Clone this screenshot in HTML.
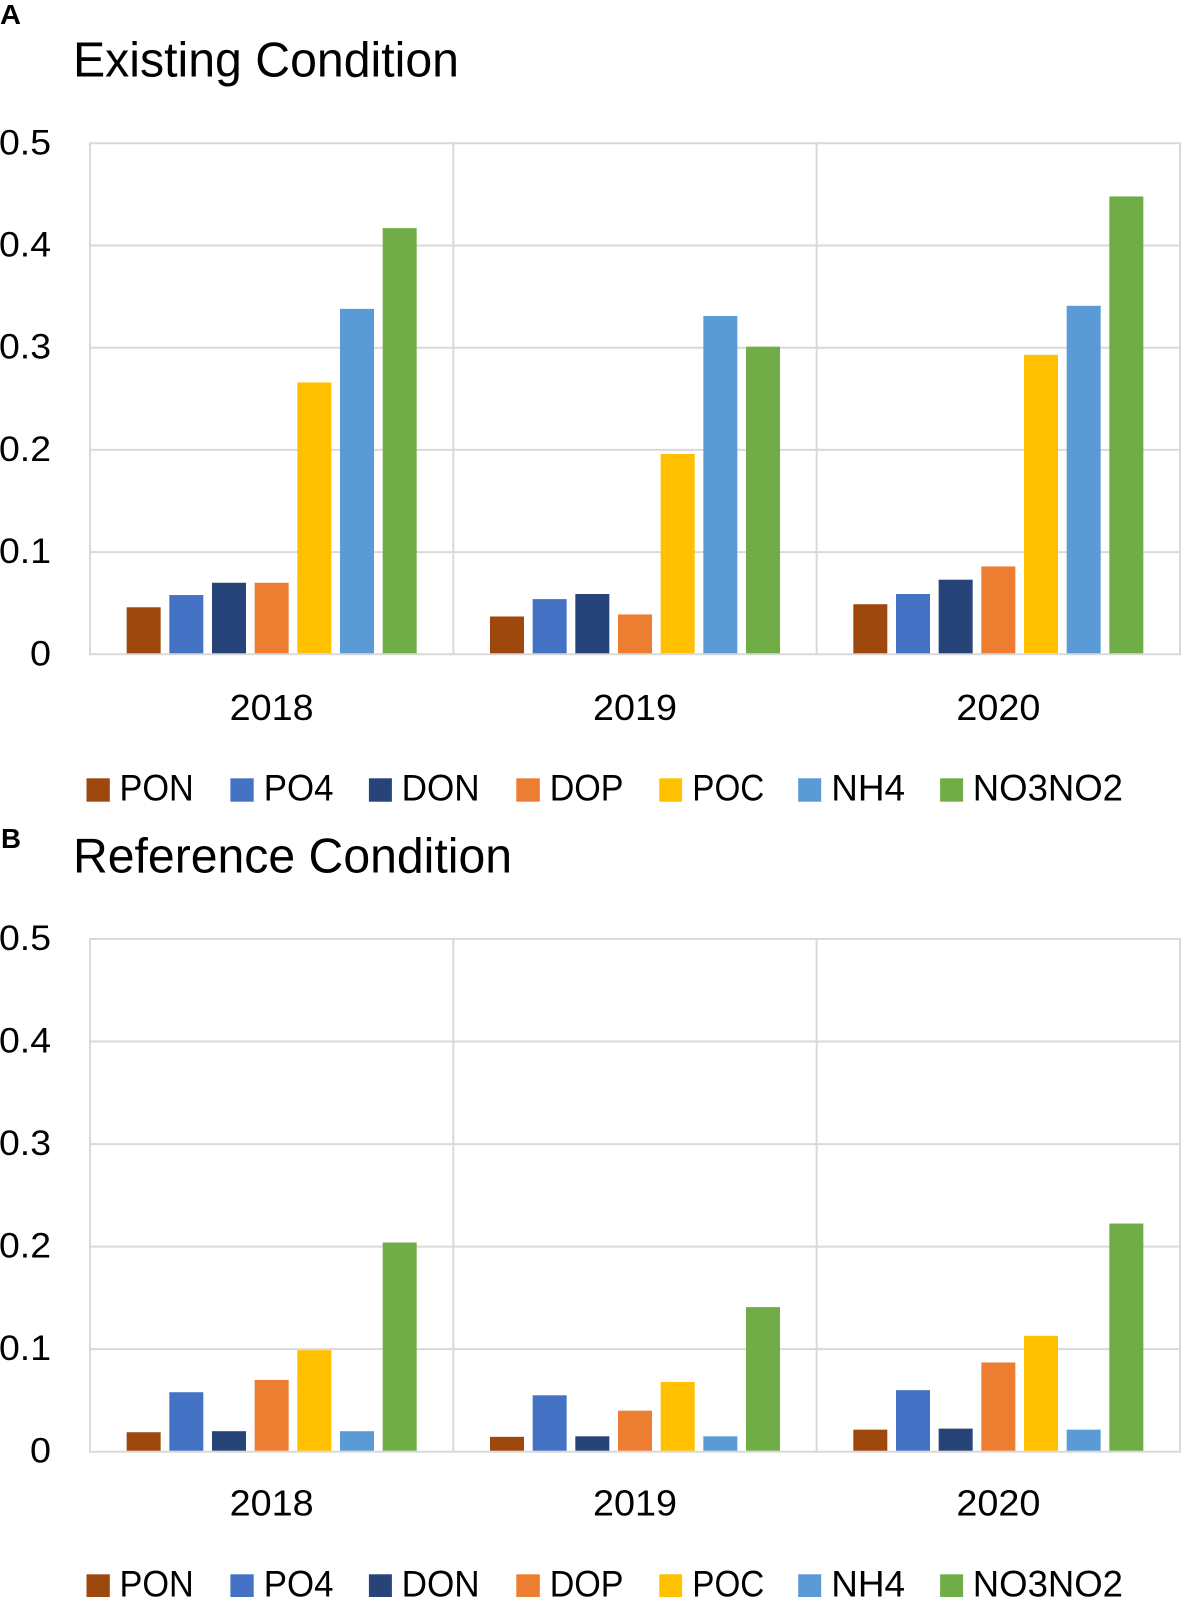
<!DOCTYPE html>
<html lang="en">
<head>
<meta charset="utf-8">
<title>Existing and Reference Condition</title>
<style>
  html, body { margin: 0; padding: 0; background: #fff; width: 1181px; height: 1597px; overflow: hidden; }
  svg { display: block; }
  text { font-family: "Liberation Sans", sans-serif; fill: #000; }
  .panel-letter { font-size: 28px; font-weight: bold; }
  .title { font-size: 49px; }
  .tick { font-size: 35px; text-anchor: end; }
  .year { font-size: 36.5px; text-anchor: middle; }
  .legend-text { font-size: 37.5px; }
  .grid { stroke: #d9d9d9; stroke-width: 2; }
  .series-0 { fill: #9e480e; }
  .series-1 { fill: #4472c4; }
  .series-2 { fill: #264478; }
  .series-3 { fill: #ed7d31; }
  .series-4 { fill: #ffc000; }
  .series-5 { fill: #5b9bd5; }
  .series-6 { fill: #70ad47; }
</style>
</head>
<body>
<svg id="figure" xmlns="http://www.w3.org/2000/svg" width="1181" height="1597" viewBox="0 0 1181 1597">
  <rect width="1181" height="1597" fill="#fff"/>

  <text class="panel-letter" x="0" y="24" textLength="21" lengthAdjust="spacingAndGlyphs">A</text>
  <text class="title" x="73" y="76.7" textLength="386" lengthAdjust="spacingAndGlyphs">Existing Condition</text>
  <g id="panel-a"></g>
  <g>
    <rect class="series-0" x="86.5" y="778.3" width="23.3" height="23.4"/>
    <text class="legend-text" x="119.5" y="800.7" textLength="74.3" lengthAdjust="spacingAndGlyphs">PON</text>
    <rect class="series-1" x="230.4" y="778.3" width="23.3" height="23.4"/>
    <text class="legend-text" x="263.8" y="800.7" textLength="69.7" lengthAdjust="spacingAndGlyphs">PO4</text>
    <rect class="series-2" x="368.9" y="778.3" width="23" height="23.4"/>
    <text class="legend-text" x="401.6" y="800.7" textLength="78.1" lengthAdjust="spacingAndGlyphs">DON</text>
    <rect class="series-3" x="516.3" y="778.3" width="23.5" height="23.4"/>
    <text class="legend-text" x="549.7" y="800.7" textLength="73.8" lengthAdjust="spacingAndGlyphs">DOP</text>
    <rect class="series-4" x="659.3" y="778.3" width="22.8" height="23.4"/>
    <text class="legend-text" x="692.3" y="800.7" textLength="72" lengthAdjust="spacingAndGlyphs">POC</text>
    <rect class="series-5" x="798.2" y="778.3" width="23" height="23.4"/>
    <text class="legend-text" x="831.2" y="800.7" textLength="73.9" lengthAdjust="spacingAndGlyphs">NH4</text>
    <rect class="series-6" x="940.1" y="778.3" width="23" height="23.4"/>
    <text class="legend-text" x="972.8" y="800.7" textLength="150.2" lengthAdjust="spacingAndGlyphs">NO3NO2</text>
  </g>

  <text class="panel-letter" x="1" y="848" textLength="20" lengthAdjust="spacingAndGlyphs">B</text>
  <text class="title" x="73" y="872.3" textLength="439" lengthAdjust="spacingAndGlyphs">Reference Condition</text>
  <g id="panel-b"></g>
  <g>
    <rect class="series-0" x="86.5" y="1574.3" width="23.3" height="23.4"/>
    <text class="legend-text" x="119.5" y="1596.7" textLength="74.3" lengthAdjust="spacingAndGlyphs">PON</text>
    <rect class="series-1" x="230.4" y="1574.3" width="23.3" height="23.4"/>
    <text class="legend-text" x="263.8" y="1596.7" textLength="69.7" lengthAdjust="spacingAndGlyphs">PO4</text>
    <rect class="series-2" x="368.9" y="1574.3" width="23" height="23.4"/>
    <text class="legend-text" x="401.6" y="1596.7" textLength="78.1" lengthAdjust="spacingAndGlyphs">DON</text>
    <rect class="series-3" x="516.3" y="1574.3" width="23.5" height="23.4"/>
    <text class="legend-text" x="549.7" y="1596.7" textLength="73.8" lengthAdjust="spacingAndGlyphs">DOP</text>
    <rect class="series-4" x="659.3" y="1574.3" width="22.8" height="23.4"/>
    <text class="legend-text" x="692.3" y="1596.7" textLength="72" lengthAdjust="spacingAndGlyphs">POC</text>
    <rect class="series-5" x="798.2" y="1574.3" width="23" height="23.4"/>
    <text class="legend-text" x="831.2" y="1596.7" textLength="73.9" lengthAdjust="spacingAndGlyphs">NH4</text>
    <rect class="series-6" x="940.1" y="1574.3" width="23" height="23.4"/>
    <text class="legend-text" x="972.8" y="1596.7" textLength="150.2" lengthAdjust="spacingAndGlyphs">NO3NO2</text>
  </g>
</svg>

<script>
const categories = ['2018', '2019', '2020'];
const seriesNames = ['PON', 'PO4', 'DON', 'DOP', 'POC', 'NH4', 'NO3NO2'];
const tickValues = [0, 0.1, 0.2, 0.3, 0.4, 0.5];
const tickLabels = ['0', '0.1', '0.2', '0.3', '0.4', '0.5'];

const existingPON = [0.046, 0.037, 0.049];
const existingPO4 = [0.058, 0.054, 0.059];
const existingDON = [0.070, 0.059, 0.073];
const existingDOP = [0.070, 0.039, 0.086];
const existingPOC = [0.266, 0.196, 0.293];
const existingNH4 = [0.338, 0.331, 0.341];
const existingNO3NO2 = [0.417, 0.301, 0.448];

const referencePON = [0.019, 0.0145, 0.0215];
const referencePO4 = [0.058, 0.055, 0.060];
const referenceDON = [0.020, 0.015, 0.0225];
const referenceDOP = [0.070, 0.040, 0.087];
const referencePOC = [0.099, 0.068, 0.113];
const referenceNH4 = [0.020, 0.015, 0.0215];
const referenceNO3NO2 = [0.204, 0.141, 0.2225];

const existingSeries = [existingPON, existingPO4, existingDON, existingDOP, existingPOC, existingNH4, existingNO3NO2];
const referenceSeries = [referencePON, referencePO4, referenceDON, referenceDOP, referencePOC, referenceNH4, referenceNO3NO2];

const SVG_NS = 'http://www.w3.org/2000/svg';
const PLOT_LEFT = 90;
const PLOT_RIGHT = 1180;
const BAR_PITCH = 42.67;
const BAR_WIDTH = 34;
const Y_MAX = 0.5;

function xCategoryEdge(index) {
  return PLOT_LEFT + index * (PLOT_RIGHT - PLOT_LEFT) / categories.length;
}

function xBarCenter(categoryIndex, seriesIndex) {
  const center = (xCategoryEdge(categoryIndex) + xCategoryEdge(categoryIndex + 1)) / 2;
  return center + (seriesIndex - (seriesNames.length - 1) / 2) * BAR_PITCH;
}

function makeYScale(top, zero) {
  return function (value) {
    return zero - (value / Y_MAX) * (zero - top);
  };
}

function drawPanel(group, series, top, zero, prefix, yearOffset) {
  const y = makeYScale(top, zero);

  tickValues.forEach(function (tick, i) {
    const line = document.createElementNS(SVG_NS, 'line');
    
    
    line.setAttribute('class', 'grid');
    line.setAttribute('x1', PLOT_LEFT);
    line.setAttribute('x2', PLOT_RIGHT);
    line.setAttribute('y1', y(tick));
    line.setAttribute('y2', y(tick));
    group.appendChild(line);

    const label = document.createElementNS(SVG_NS, 'text');
    
    
    label.setAttribute('class', 'tick');
    label.setAttribute('x', 51);
    label.setAttribute('y', y(tick) + 11);
    label.setAttribute('textLength', tickLabels[i].length > 1 ? 52 : 21);
    label.setAttribute('lengthAdjust', 'spacingAndGlyphs');
    label.textContent = tickLabels[i];
    group.appendChild(label);
  });

  for (let c = 0; c <= categories.length; c++) {
    const divider = document.createElementNS(SVG_NS, 'line');
    
    
    divider.setAttribute('class', 'grid');
    divider.setAttribute('x1', xCategoryEdge(c));
    divider.setAttribute('x2', xCategoryEdge(c));
    divider.setAttribute('y1', top - 1);
    divider.setAttribute('y2', zero + 1);
    group.appendChild(divider);
  }

  categories.forEach(function (category, c) {
    series.forEach(function (values, s) {
      const bar = document.createElementNS(SVG_NS, 'rect');
      
      
      bar.setAttribute('class', 'series-' + s);
      bar.setAttribute('x', xBarCenter(c, s) - BAR_WIDTH / 2);
      bar.setAttribute('y', y(values[c]));
      bar.setAttribute('width', BAR_WIDTH);
      bar.setAttribute('height', y(0) - y(values[c]) - 1);
      group.appendChild(bar);
    });

    const year = document.createElementNS(SVG_NS, 'text');
    
    
    year.setAttribute('class', 'year');
    year.setAttribute('x', (xCategoryEdge(c) + xCategoryEdge(c + 1)) / 2);
    year.setAttribute('y', zero + yearOffset);
    year.setAttribute('textLength', 84);
    year.setAttribute('lengthAdjust', 'spacingAndGlyphs');
    year.textContent = category;
    group.appendChild(year);
  });
}

drawPanel(document.getElementById('panel-a'), existingSeries, 143.3, 654.3, 'existing', 65.7);
drawPanel(document.getElementById('panel-b'), referenceSeries, 939, 1451.7, 'reference', 64);
</script>
</body>
</html>
